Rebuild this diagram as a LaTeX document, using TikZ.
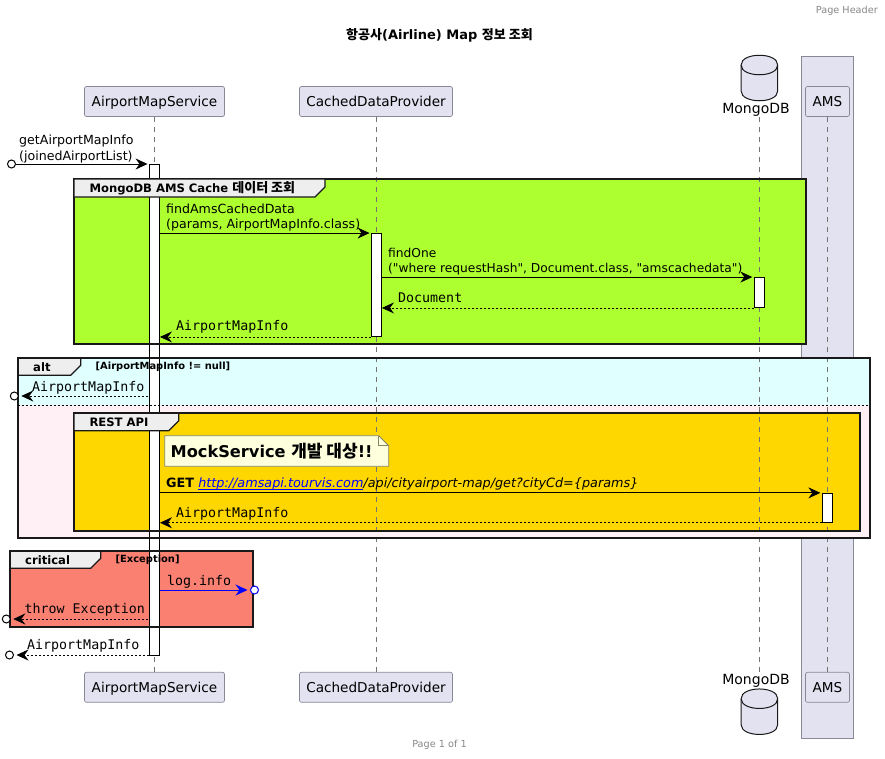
\documentclass[tikz,border=0pt]{standalone}
\usepackage{fontspec}
\setmainfont{DejaVu Sans}[Ligatures=TeXOff]
\setmonofont{DejaVu Sans Mono}
\newfontfamily\krfont{Noto Sans CJK KR}
\usepackage{tikz}
\usetikzlibrary{arrows.meta}
\definecolor{partfill}{HTML}{E2E2F0}
\definecolor{partedge}{HTML}{888899}
\definecolor{tabfill}{HTML}{EEEEEE}
\definecolor{notefill}{HTML}{FEFFDD}
\definecolor{noteedge}{HTML}{85856A}
\definecolor{greyfoot}{HTML}{888888}
\definecolor{cachefill}{HTML}{ADFF2F}
\definecolor{altfill}{HTML}{E0FFFF}
\definecolor{elsefill}{HTML}{FFF0F5}
\definecolor{restfill}{HTML}{FFD700}
\definecolor{critfill}{HTML}{FA8072}
\tikzset{
    partbox/.style={draw=partedge, fill=partfill, rounded corners=2pt, line width=0.7pt, minimum height=30pt, inner sep=0pt, text height=13pt, text depth=3pt, font=\fontsize{13.6}{16}\selectfont},
    dbshape/.pic={
        \draw[draw=black!90, fill=partfill, line width=1pt] (-18.3, -13) .. controls (-18.3, -26) and (18.3, -26) .. (18.3, -13) -- (18.3, 13) .. controls (18.3, 26) and (-18.3, 26) .. (-18.3, 13) -- cycle;
        \draw[draw=black!90, line width=1pt] (-18.3, -13) .. controls (-18.3, 0) and (18.3, 0) .. (18.3, -13);
    },
    dblabel/.style={inner sep=0pt, font=\fontsize{14}{16}\selectfont},
    lifeline/.style={draw=black!55, line width=0.55pt, dash pattern=on 5pt off 5pt},
    actbar/.style={draw=black, fill=white, line width=0.9pt, minimum width=10pt, inner sep=0pt},
    groupline/.style={draw=black!90, line width=1.7pt},
    grouptab/.style={draw=black!90, fill=tabfill, line width=1.2pt},
    grouptitle/.style={anchor=west, inner sep=0pt, font=\fontsize{11.6}{15}\bfseries\selectfont},
    groupcond/.style={anchor=west, inner sep=0pt, font=\fontsize{9.9}{13}\bfseries\selectfont},
    msgtext/.style={anchor=west, inner sep=0pt, align=left, font=\fontsize{12.6}{15.7}\selectfont},
    msgmono/.style={anchor=west, inner sep=0pt, font=\fontsize{13.3}{15}\ttfamily\selectfont},
    msgline/.style={draw=black, line width=0.8pt, -{Stealth[length=12pt, width=11pt, inset=4pt]}},
    msgdash/.style={msgline, dash pattern=on 2pt off 2pt},
    lostend/.style={circle, draw=black, fill=white, line width=1pt, minimum size=8pt, inner sep=0pt},
    greytext/.style={inner sep=0pt, text=greyfoot, font=\fontsize{9.7}{12}\selectfont}
}
\begin{document}
\begin{tikzpicture}[x=1pt, y=-1pt]
    \useasboundingbox (0, 0) rectangle (885, 758);
    \fill[white] (0, 0) rectangle (885, 758);

    \node (headerText) [greytext, anchor=east] at (878, 11) {Page Header};
    \node (titleText) [inner sep=0pt, font=\fontsize{13}{16}\bfseries\selectfont] at (439.5, 35) {{\krfont 항공사}(Airline) Map {\krfont 정보 조회}};
    \node (footerText) [greytext] at (439.5, 745) {Page 1 of 1};

    \draw[draw=partedge, fill=partfill, line width=0.7pt] (801.5, 56.5) rectangle (853.5, 738.5);

    \fill[cachefill] (74, 179) rectangle (805.7, 344.3);
    \fill[altfill] (18.3, 358.3) rectangle (869.7, 405.3);
    \fill[elsefill] (18.3, 405.3) rectangle (869.7, 537.7);
    \fill[restfill] (74, 413.3) rectangle (859.7, 530.7);
    \fill[critfill] (10.3, 551.3) rectangle (252.7, 627.3);

    \node (svcTop) [partbox, minimum width=140pt] at (154.5, 101.5) {AirportMapService};
    \node (svcBot) [partbox, minimum width=140pt] at (154.5, 687.3) {AirportMapService};
    \node (cacheTop) [partbox, minimum width=153pt] at (376, 101.5) {CachedDataProvider};
    \node (cacheBot) [partbox, minimum width=153pt] at (376, 687.3) {CachedDataProvider};
    \node (amsTop) [partbox, minimum width=44pt] at (827.5, 101.5) {AMS};
    \node (amsBot) [partbox, minimum width=44pt] at (827.5, 687.3) {AMS};
    \coordinate (mongoTop) at (759.4, 78);
    \coordinate (mongoBot) at (759.4, 711.7);
    \pic at (mongoTop) {dbshape};
    \pic at (mongoBot) {dbshape};
    \node (mongoTopText) [dblabel] at (756, 110) {MongoDB};
    \node (mongoBotText) [dblabel] at (756, 680.5) {MongoDB};

    \draw[lifeline] (svcTop) -- (svcBot);
    \draw[lifeline] (cacheTop) -- (cacheBot);
    \draw[lifeline] (mongoTop |- mongoTopText.south) -- (mongoBot |- mongoBotText.north);
    \draw[lifeline] (amsTop) -- (amsBot);

    \node (svcBar) [actbar, minimum height=490.5pt] at (154.5, 409.8) {};
    \node (cacheBar) [actbar, minimum height=103pt] at (376.5, 285) {};
    \node (mongoBar) [actbar, minimum height=30pt] at (759.3, 292.5) {};
    \node (amsBar) [actbar, minimum height=29pt] at (827.3, 507.8) {};

    \draw[groupline] (74, 179) rectangle (805.7, 344.3);
    \draw[grouptab] (74, 179) -- (325, 179) -- (325, 187) -- (315, 197) -- (74, 197) -- cycle;
    \node (cacheTitle) [grouptitle] at (89.3, 188) {MongoDB AMS Cache {\krfont\fontsize{13}{15}\selectfont 데이터 조회}};

    \draw[groupline] (18.3, 358.3) rectangle (869.7, 537.7);
    \draw[grouptab] (18.3, 358.3) -- (80.7, 358.3) -- (80.7, 365.3) -- (70.7, 375.3) -- (18.3, 375.3) -- cycle;
    \node (altTitle) [grouptitle] at (33, 367) {alt};
    \node (altCond) [groupcond] at (95.5, 367) {[AirportMapInfo != null]};
    \draw[black, line width=0.8pt, dash pattern=on 2pt off 2pt] (18.3, 405.3) -- (869.7, 405.3);

    \draw[groupline] (74, 413.3) rectangle (859.7, 530.7);
    \draw[grouptab] (74, 413.3) -- (178.7, 413.3) -- (178.7, 420.7) -- (168.7, 430.7) -- (74, 430.7) -- cycle;
    \node (restTitle) [grouptitle] at (89.3, 422) {REST API};

    \draw[groupline] (10.3, 551.3) rectangle (252.7, 627.3);
    \draw[grouptab] (10.3, 551.3) -- (100.7, 551.3) -- (100.7, 558.3) -- (90.7, 568.3) -- (10.3, 568.3) -- cycle;
    \node (critTitle) [grouptitle] at (25, 560.5) {critical};
    \node (critCond) [groupcond] at (115.5, 560) {[Exception]};

    \draw[draw=noteedge, fill=notefill, line width=0.8pt] (164.7, 435.7) -- (378.7, 435.7) -- (388.7, 445.7) -- (388.7, 466.3) -- (164.7, 466.3) -- cycle;
    \draw[draw=noteedge, line width=0.8pt] (378.7, 435.7) |- (388.7, 445.7);
    \node (mockNote) [anchor=west, inner sep=0pt, font=\fontsize{16.2}{20}\bfseries\selectfont] at (170.5, 451) {MockService {\krfont\fontsize{17}{20}\selectfont 개발 대상}!!};

    \node (startEnd) [lostend] at (11.5, 164) {};
    \node (altEnd) [lostend] at (14.3, 396) {};
    \node (logEnd) [lostend, draw=blue] at (254.5, 590) {};
    \node (throwEnd) [lostend] at (6.3, 619) {};
    \node (retEnd) [lostend] at (9.5, 655) {};

    \draw[msgline, shorten >=1.5pt] (startEnd) -- (startEnd -| svcBar.west);
    \draw[msgline, shorten >=1.5pt] (svcBar.east |- cacheBar.north) -- (cacheBar.north west);
    \draw[msgline, shorten >=1.5pt] (cacheBar.east |- mongoBar.north) -- (mongoBar.north west);
    \draw[msgdash] (mongoBar.south west) -- (cacheBar.east |- mongoBar.south);
    \draw[msgdash] (cacheBar.south west) -- (svcBar.east |- cacheBar.south);
    \draw[msgdash, shorten <=1.5pt, shorten >=2.5pt] (altEnd -| svcBar.west) -- (altEnd);
    \draw[msgline, shorten >=1.5pt] (svcBar.east |- amsBar.north) -- (amsBar.north west);
    \draw[msgdash] (amsBar.south west) -- (svcBar.east |- amsBar.south);
    \draw[msgline, draw=blue, shorten >=2.5pt] (logEnd -| svcBar.east) -- (logEnd);
    \draw[msgdash, shorten <=1.5pt, shorten >=2.5pt] (throwEnd -| svcBar.west) -- (throwEnd);
    \draw[msgdash, shorten >=2.5pt] (retEnd -| svcBar.west) -- (retEnd);

    \node (startText) [msgtext] at (19, 149) {getAirportMapInfo\\(joinedAirportList)};
    \node (findText) [msgtext] at (166, 217.5) {findAmsCachedData\\(params, AirportMapInfo.class)};
    \node (oneText) [msgtext, font=\fontsize{12.25}{15.4}\selectfont] at (388, 261.5) {findOne\\("where requestHash", Document.class, "amscachedata")};
    \node (docText) [msgmono] at (398, 297.5) {Document};
    \node (infoText) [msgmono] at (176, 326.5) {AirportMapInfo};
    \node (altText) [msgmono] at (32, 388) {AirportMapInfo};
    \node (getText) [msgtext, font=\fontsize{12.8}{15.7}\selectfont] at (166, 484) {\textbf{GET} \textit{\textcolor{blue}{\underline{\smash{http://amsapi.tourvis.com}}}/api/cityairport-map/get?cityCd=\{params\}}};
    \node (restText) [msgmono] at (176, 513.5) {AirportMapInfo};
    \node (logText) [msgmono] at (167, 581.5) {log.info};
    \node (throwText) [msgmono] at (24.5, 610) {throw Exception};
    \node (retText) [msgmono] at (27, 646) {AirportMapInfo};
\end{tikzpicture}
\end{document}
